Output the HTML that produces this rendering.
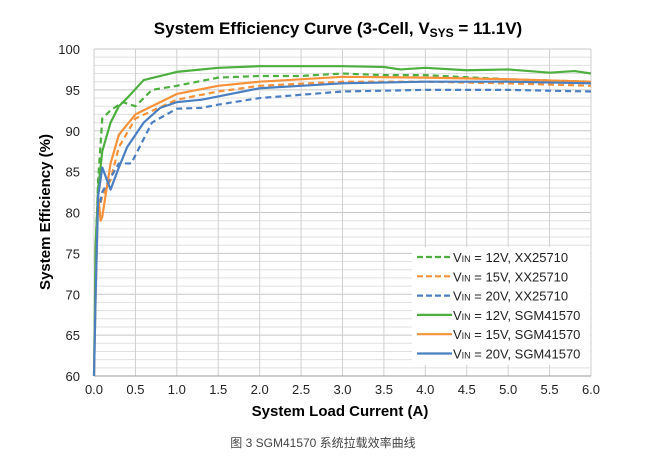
<!DOCTYPE html><html><head><meta charset="utf-8"><style>
body{margin:0;background:#fff;width:647px;height:461px;overflow:hidden;font-family:"Liberation Sans","Noto Sans CJK SC",sans-serif}
</style></head><body>
<svg id="s" width="647" height="461" xmlns="http://www.w3.org/2000/svg" font-family="Liberation Sans, Noto Sans CJK SC, sans-serif">
<text x="338" y="34" text-anchor="middle" font-size="17" font-weight="bold" fill="#000">System Efficiency Curve (3-Cell, V<tspan font-size="12" dy="3">SYS</tspan><tspan dy="-3"> = 11.1V)</tspan></text>
<g id="grid"></g>
<g id="lines"></g>
<rect x="412" y="247" width="178" height="118" fill="#fff"/>
<g id="leg" font-size="13" fill="#222"></g>
<text x="340" y="416" text-anchor="middle" font-size="15" font-weight="bold">System Load Current (A)</text>
<text transform="translate(50,212) rotate(-90)" text-anchor="middle" font-size="15" font-weight="bold">System Efficiency (%)</text>
<text x="323" y="447" text-anchor="middle" font-size="12" fill="#444">图 3 SGM41570 系统拉载效率曲线</text>
</svg>
<script>
const X=a=>94+82.83*a, Y=v=>49+(100-v)*8.175, NS="http://www.w3.org/2000/svg";
function el(p,t,at,txt){const e=document.createElementNS(NS,t);for(const k in at)e.setAttribute(k,at[k]);if(txt!=null)e.textContent=txt;p.appendChild(e);return e;}
const g=document.getElementById('grid');
for(let v=60;v<=100;v++)el(g,'line',{x1:X(0),x2:X(6),y1:Y(v),y2:Y(v),stroke:v%5==0?'#c8c8c8':'#e0e0e0','stroke-width':1});
for(let a=0;a<=12;a++)el(g,'line',{x1:X(a/2),x2:X(a/2),y1:Y(60),y2:Y(100),stroke:'#cfcfcf','stroke-width':1});
el(g,'line',{x1:X(0),x2:X(6),y1:Y(60),y2:Y(60),stroke:'#999'});
for(let v=60;v<=100;v+=5)el(g,'text',{x:80,y:Y(v)+5,'text-anchor':'end','font-size':13,fill:'#222'},v);
for(let a=0;a<=12;a++)el(g,'text',{x:X(a/2),y:Y(60)+18,'text-anchor':'middle','font-size':13,fill:'#222'},(a/2).toFixed(1));
const G='#4caf3e',O='#f7923a',B='#4a7fc1';
const S=[
[G,1,[[0.02,75],[0.05,84],[0.1,91.5],[0.2,92.5],[0.35,93.5],[0.5,93],[0.7,95],[1,95.5],[1.5,96.5],[2,96.7],[2.5,96.7],[3,97],[3.5,96.8],[4,96.8],[5,96.3],[6,96]]],
[O,1,[[0.05,80],[0.1,82],[0.2,84],[0.3,88],[0.5,91.5],[1,93.8],[1.5,94.8],[2,95.5],[3,96],[4,96],[5,95.8],[6,95.5]]],
[B,1,[[0.05,80],[0.1,82.5],[0.3,86],[0.45,86],[0.55,88],[0.7,91],[1,92.7],[1.3,92.8],[1.5,93.2],[2,94],[3,94.8],[4,95],[5,95],[6,94.8]]],
[G,0,[[0,60],[0.02,76],[0.05,83],[0.1,87.5],[0.2,91],[0.3,93],[0.4,94],[0.6,96.2],[1,97.2],[1.5,97.7],[2,97.9],[3,97.9],[3.5,97.8],[3.7,97.5],[4,97.7],[4.5,97.4],[5,97.5],[5.5,97.1],[5.8,97.3],[6,97]]],
[O,0,[[0,60],[0.02,70],[0.05,82],[0.08,79],[0.1,79.5],[0.2,86],[0.3,89.5],[0.5,92],[0.8,93.5],[1,94.5],[1.5,95.5],[2,96],[3,96.6],[4,96.5],[5,96.3],[6,96]]],
[B,0,[[0,60],[0.02,70],[0.05,82],[0.1,85.5],[0.2,82.8],[0.3,85.5],[0.4,88],[0.6,91],[0.8,92.8],[1,93.5],[1.3,93.8],[1.5,94.2],[2,95.2],[2.5,95.5],[3,95.8],[4,96],[5,96],[6,95.8]]]];
const L=document.getElementById('lines');
S.forEach(s=>{const a={points:s[2].map(p=>X(p[0])+','+Y(p[1])).join(' '),fill:'none',stroke:s[0],'stroke-width':2.2,'stroke-linejoin':'round'};if(s[1])a['stroke-dasharray']='6,4';el(L,'polyline',a);});
const names=['12V, XX25710','15V, XX25710','20V, XX25710','12V, SGM41570','15V, SGM41570','20V, SGM41570'];
const lg=document.getElementById('leg');
S.forEach((s,i)=>{const y=257+i*19.3;const a={x1:417,x2:452,y1:y,y2:y,stroke:s[0],'stroke-width':2.2};if(s[1])a['stroke-dasharray']='6,3';el(lg,'line',a);
const t=el(lg,'text',{x:453,y:y+5});t.innerHTML='V<tspan font-size="9">IN</tspan> = '+names[i];});
</script>
</body></html>
